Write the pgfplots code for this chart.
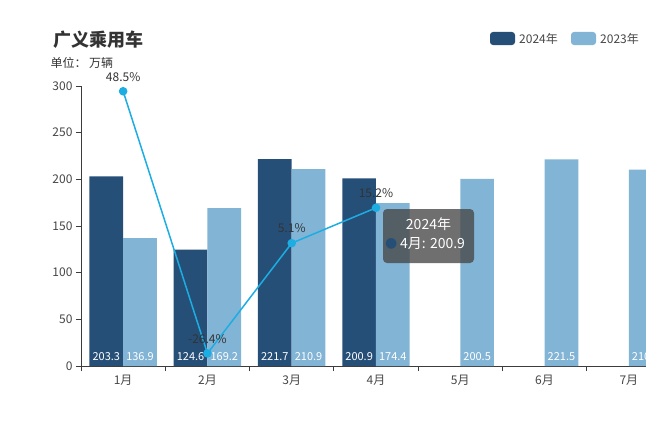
\documentclass[border=0pt]{standalone}
\usepackage{pgfplots}
\pgfplotsset{compat=1.18}
\usepackage{fontspec}
\setmainfont{Noto Sans CJK SC}
\newfontfamily\dejavu{DejaVu Sans}
\definecolor{dark}{RGB}{38,79,120}
\definecolor{light}{RGB}{130,180,214}
\definecolor{linec}{RGB}{28,173,226}
\definecolor{axisc}{RGB}{60,60,60}
\definecolor{txt}{RGB}{70,70,70}
\definecolor{titlec}{RGB}{51,51,51}
\begin{document}
\begin{tikzpicture}
\begin{axis}[scale only axis,
  width=590pt, height=280pt,
  xmin=-0.5, xmax=6.5, ymin=0, ymax=300,
  axis x line*=bottom, axis y line*=left,
  axis line style={axisc, line width=0.8pt},
  xtick={0,...,6}, xticklabels={1月,2月,3月,4月,5月,6月,7月},
  major x tick style={draw=none},
  minor xtick={-0.5,0.5,...,6.5},
  minor x tick style={axisc, line width=0.8pt},
  minor tick length=5pt,
  ytick={0,50,...,300},
  y tick style={axisc, line width=0.8pt},
  major tick length=5pt,
  tick align=outside,
  /pgf/number format/assume math mode=true,
  tick label style={font=\fontsize{12}{12}\selectfont, text=txt},
  xticklabel style={yshift=-1pt},
  clip=false,
]
\addplot[ybar, bar width=0.4, bar shift=-0.2, fill=dark, draw=none]
  coordinates {(0,203.3) (1,124.6) (2,221.7) (3,200.9)};
\addplot[ybar, bar width=0.4, bar shift=0.2, fill=light, draw=none]
  coordinates {(0,136.9) (1,169.2) (2,210.9) (3,174.4) (4,200.5) (5,221.5) (6,210.3)};
\addplot[draw=none, nodes near coords, point meta=explicit symbolic,
  nodes near coords style={anchor=center, text=white, font=\fontsize{11}{11}\selectfont}]
  coordinates {(-0.2,10)[203.3] (0.8,10)[124.6] (1.8,10)[221.7] (2.8,10)[200.9]
               (0.2,10)[136.9] (1.2,10)[169.2] (2.2,10)[210.9] (3.2,10)[174.4]
               (4.2,10)[200.5] (5.2,10)[221.5] (6.2,10)[210.3]};
\end{axis}
\begin{axis}[scale only axis,
  width=590pt, height=280pt,
  xmin=-0.5, xmax=6.5, ymin=-30, ymax=50,
  hide axis, clip=false]
\addplot[linec, line width=1.5pt, mark=*, mark size=3.5pt,
  mark options={fill=linec, draw=linec},
  nodes near coords, point meta=explicit symbolic,
  nodes near coords style={anchor=south, yshift=6pt, text=titlec, font=\fontsize{12}{12}\selectfont}]
  coordinates {(0,48.5)[48.5\%] (1,-26.4)[-26.4\%] (2,5.1)[5.1\%] (3,15.2)[15.2\%]};
\end{axis}
\begin{scope}[shift={(-81pt,-58pt)}, x=1pt, y=1pt]
% title and subtitle
\node[anchor=west, text=titlec, font=\fontsize{18}{18}\selectfont\bfseries] at (50,384) {广义乘用车};
\node[anchor=west, text=titlec, font=\fontsize{12}{12}\selectfont] at (47,361) {单位： 万辆};
% legend
\fill[dark, rounded corners=3pt] (490,379) rectangle (515,392);
\node[anchor=west, text=txt, font=\fontsize{12}{12}\selectfont, inner sep=0pt] at (519,385.5) {2024年};
\fill[light, rounded corners=3pt] (571,379) rectangle (596,392);
\node[anchor=west, text=txt, font=\fontsize{12}{12}\selectfont, inner sep=0pt] at (600,385.5) {2023年};
% tooltip
\fill[fill={rgb,255:red,70;green,70;blue,70}, fill opacity=0.78, rounded corners=4pt] (383,161) rectangle (474,215);
\node[text=white, font=\fontsize{14}{14}\selectfont, inner sep=0pt] at (428.5,200) {2024年};
\node[anchor=west, text=dark, font=\fontsize{14}{14}\selectfont\dejavu, inner sep=0pt] at (385,180) {●};
\node[anchor=west, text=white, font=\fontsize{14}{14}\selectfont, inner sep=0pt] at (400,180) {4月: 200.9};
\end{scope}
\pgfresetboundingbox
\useasboundingbox (-81pt,-58pt) rectangle (565pt,366pt);
\end{tikzpicture}
\end{document}
